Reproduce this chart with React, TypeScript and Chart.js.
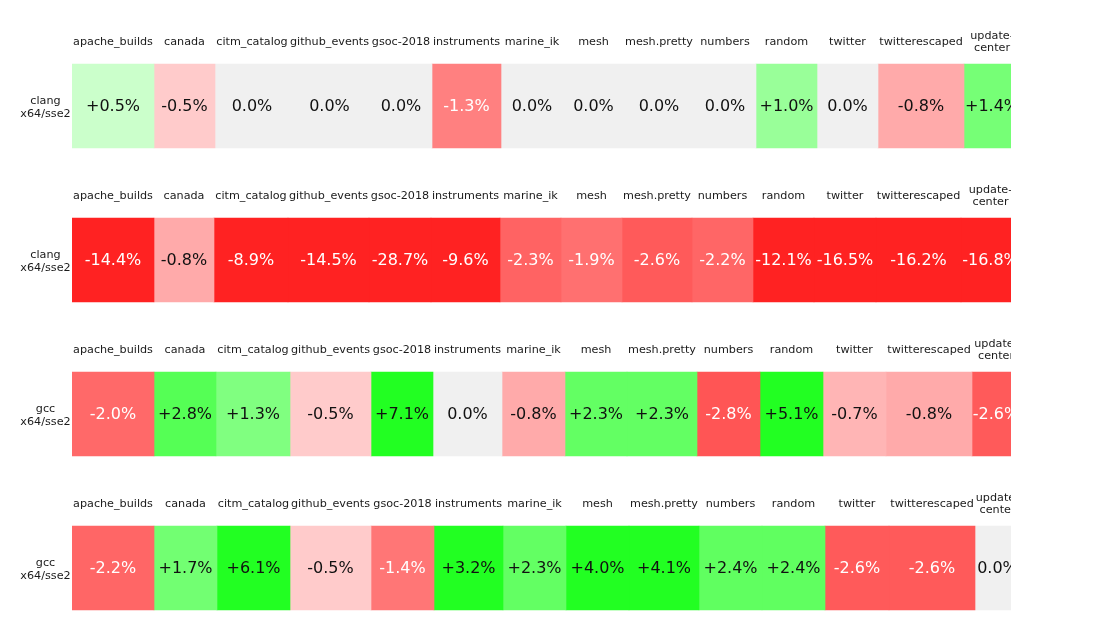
import { useEffect, useRef } from "react";
import { Chart, registerables } from "chart.js";

Chart.register(...registerables);

// ---------- data ----------
const benchmarks = [
  "apache_builds",
  "canada",
  "citm_catalog",
  "github_events",
  "gsoc-2018",
  "instruments",
  "marine_ik",
  "mesh",
  "mesh.pretty",
  "numbers",
  "random",
  "twitter",
  "twitterescaped",
  "update-center",
];

const rowLabels = [
  ["clang", "x64/sse2"],
  ["clang", "x64/sse2"],
  ["gcc", "x64/sse2"],
  ["gcc", "x64/sse2"],
];

const clangRunA = [0.5, -0.5, 0.0, 0.0, 0.0, -1.3, 0.0, 0.0, 0.0, 0.0, 1.0, 0.0, -0.8, 1.4];
const clangRunB = [-14.4, -0.8, -8.9, -14.5, -28.7, -9.6, -2.3, -1.9, -2.6, -2.2, -12.1, -16.5, -16.2, -16.8];
const gccRunA = [-2.0, 2.8, 1.3, -0.5, 7.1, 0.0, -0.8, 2.3, 2.3, -2.8, 5.1, -0.7, -0.8, -2.6];
const gccRunB = [-2.2, 1.7, 6.1, -0.5, -1.4, 3.2, 2.3, 4.0, 4.1, 2.4, 2.4, -2.6, -2.6, 0.0];

const rowValues = [clangRunA, clangRunB, gccRunA, gccRunB];

// ---------- style / layout ----------
const FONT_FAMILY = '"DejaVu Sans", "Liberation Sans", sans-serif';
const HEADER_FONT = `11.2px ${FONT_FAMILY}`;
const VALUE_FONT = `16px ${FONT_FAMILY}`;
const TABLE_LEFT = 72;
const CLIP_RIGHT = 1011;
const TABLE_WIDTH = 948;
const MIN_CELL = 60;
const CELL_PAD = 2;
const CANVAS_W = 1100;
const CANVAS_H = 640;
const FIRST_ROW_Y = 106;
const LAST_ROW_BOTTOM_PAD = 72;
const CELL_HEIGHT = 84;
const HEADER_OFFSET = 64;
const HEADER_LINE = 12.4;
const VALUE_SHIFT = 1;
const LABEL_X = 45.5;
const LABEL_LINE = 12.8;
const LABEL_SHIFT = 1.5;
const ZERO_COLOR = "#f0f0f0";
const DARK_TEXT = "#111111";
const LIGHT_TEXT = "#ffffff";
const HEADER_TEXT = "#1a1a1a";

// magnitude (%) -> strength of the non-dominant channel
const SHADE_STOPS: [number, number][] = [
  [0, 240],
  [0.5, 203],
  [0.7, 181],
  [0.8, 170],
  [1.0, 153],
  [1.3, 128],
  [1.4, 118],
  [1.7, 114],
  [1.9, 112],
  [2.0, 105],
  [2.2, 102],
  [2.3, 99],
  [2.4, 96],
  [2.6, 90],
  [2.8, 85],
  [3.0, 34],
];

function shade(v: number): number {
  const m = Math.abs(v);
  if (m >= SHADE_STOPS[SHADE_STOPS.length - 1][0]) return SHADE_STOPS[SHADE_STOPS.length - 1][1];
  for (let i = 1; i < SHADE_STOPS.length; i++) {
    const [m1, c1] = SHADE_STOPS[i];
    const [m0, c0] = SHADE_STOPS[i - 1];
    if (m <= m1) return Math.round(c0 + ((m - m0) / (m1 - m0)) * (c1 - c0));
  }
  return 34;
}

function cellColor(v: number): string {
  if (v === 0) return ZERO_COLOR;
  const c = shade(v);
  return v > 0 ? `rgb(${c},255,${c})` : `rgb(255,${c},${c})`;
}

function textColor(v: number): string {
  return v < 0 && shade(v) < 140 ? LIGHT_TEXT : DARK_TEXT;
}

function fmt(v: number): string {
  return v > 0 ? `+${v.toFixed(1)}%` : `${v.toFixed(1)}%`;
}

function headerParts(name: string): string[] {
  return name.replace(/-(?=[a-z])/g, "-\n").split("\n");
}

const sum = (a: number[]) => a.reduce((s, x) => s + x, 0);

// column widths follow the text that each cell must hold (like an auto table layout)
function computeWidths(): number[][] {
  const ctx = document.createElement("canvas").getContext("2d")!;
  const measure = (font: string, text: string) => {
    ctx.font = font;
    return ctx.measureText(text).width;
  };
  const n = benchmarks.length;
  const headerMax = benchmarks.map((b) => measure(HEADER_FONT, b));
  const headerMin = benchmarks.map((b) => Math.max(...headerParts(b).map((p) => measure(HEADER_FONT, p))));
  return rowValues.map((vals) => {
    const content = vals.map((v, c) =>
      Math.max(c === n - 1 ? headerMin[c] : headerMax[c], measure(VALUE_FONT, fmt(v)))
    );
    const last = content[n - 1] + CELL_PAD;
    const head = content.slice(0, n - 1);
    const base = head.map((w) => Math.max(MIN_CELL, w) + CELL_PAD);
    const slack = head.map((w) => Math.max(0, MIN_CELL - w));
    const diff = TABLE_WIDTH - last - sum(base);
    const slackSum = sum(slack);
    const widths = base.map((w, i) => w + (slackSum > 0 ? (diff * slack[i]) / slackSum : diff / (n - 1)));
    widths.push(last);
    let acc = 0;
    let prev = 0;
    return widths.map((w) => {
      acc += w;
      const e = Math.round(acc);
      const out = e - prev;
      prev = e;
      return out;
    });
  });
}

const cellTextPlugin = {
  id: "cellText",
  afterDatasetsDraw(chart: any) {
    const ctx: CanvasRenderingContext2D = chart.ctx;
    const area = chart.chartArea;
    ctx.save();
    ctx.beginPath();
    ctx.rect(0, 0, area.right, chart.height);
    ctx.clip();
    ctx.textAlign = "center";
    ctx.textBaseline = "middle";
    chart.data.datasets.forEach((_ds: any, c: number) => {
      const meta = chart.getDatasetMeta(c);
      meta.data.forEach((bar: any, r: number) => {
        const { x, base, y } = bar.getProps(["x", "base", "y"], true);
        const left = Math.min(x, base);
        const right = Math.max(x, base);
        const mid = (left + right) / 2;
        const v = rowValues[r][c];
        ctx.font = VALUE_FONT;
        ctx.fillStyle = textColor(v);
        ctx.fillText(fmt(v), mid, y + VALUE_SHIFT);

        ctx.font = HEADER_FONT;
        ctx.fillStyle = HEADER_TEXT;
        const name = benchmarks[c];
        const lines = ctx.measureText(name).width > right - left - 1 ? headerParts(name) : [name];
        const hy = y - HEADER_OFFSET;
        lines.forEach((line, i) => {
          ctx.fillText(line, mid, hy + (i - (lines.length - 1) / 2) * HEADER_LINE);
        });
      });
    });
    ctx.restore();

    ctx.save();
    ctx.font = HEADER_FONT;
    ctx.fillStyle = HEADER_TEXT;
    ctx.textAlign = "center";
    ctx.textBaseline = "middle";
    const yScale = chart.scales.y;
    rowLabels.forEach((lines, r) => {
      const y = yScale.getPixelForValue(r);
      lines.forEach((line, i) => {
        ctx.fillText(line, LABEL_X, y + (i - (lines.length - 1) / 2) * LABEL_LINE + LABEL_SHIFT);
      });
    });
    ctx.restore();
  },
};

export default function App() {
  const canvasRef = useRef<HTMLCanvasElement | null>(null);

  useEffect(() => {
    const canvas = canvasRef.current;
    if (!canvas) return;
    const widths = computeWidths();
    const chart = new Chart(canvas, {
      type: "bar",
      data: {
        labels: rowLabels.map((l) => l.join(" ")),
        datasets: benchmarks.map((name, c) => ({
          label: name,
          data: rowValues.map((_vals, r) => widths[r][c]),
          backgroundColor: rowValues.map((vals) => cellColor(vals[c])),
          borderWidth: 0,
          barThickness: CELL_HEIGHT,
          clip: { left: 0, right: 0, top: false, bottom: false } as any,
        })),
      },
      options: {
        indexAxis: "y",
        responsive: false,
        animation: false,
        devicePixelRatio: 1,
        events: [],
        layout: {
          padding: {
            left: TABLE_LEFT,
            right: CANVAS_W - CLIP_RIGHT,
            top: FIRST_ROW_Y,
            bottom: LAST_ROW_BOTTOM_PAD,
          },
        },
        scales: {
          x: {
            type: "linear",
            stacked: true,
            min: 0,
            max: CLIP_RIGHT - TABLE_LEFT,
            display: false,
          },
          y: {
            type: "category",
            stacked: true,
            offset: false,
            display: false,
          },
        },
        plugins: {
          legend: { display: false },
          tooltip: { enabled: false },
        },
      },
      plugins: [cellTextPlugin],
    });
    return () => chart.destroy();
  }, []);

  return (
    <div style={{ position: "absolute", left: 0, top: 0, width: CANVAS_W, height: CANVAS_H, background: "#fff" }}>
      <canvas ref={canvasRef} width={CANVAS_W} height={CANVAS_H} />
    </div>
  );
}
